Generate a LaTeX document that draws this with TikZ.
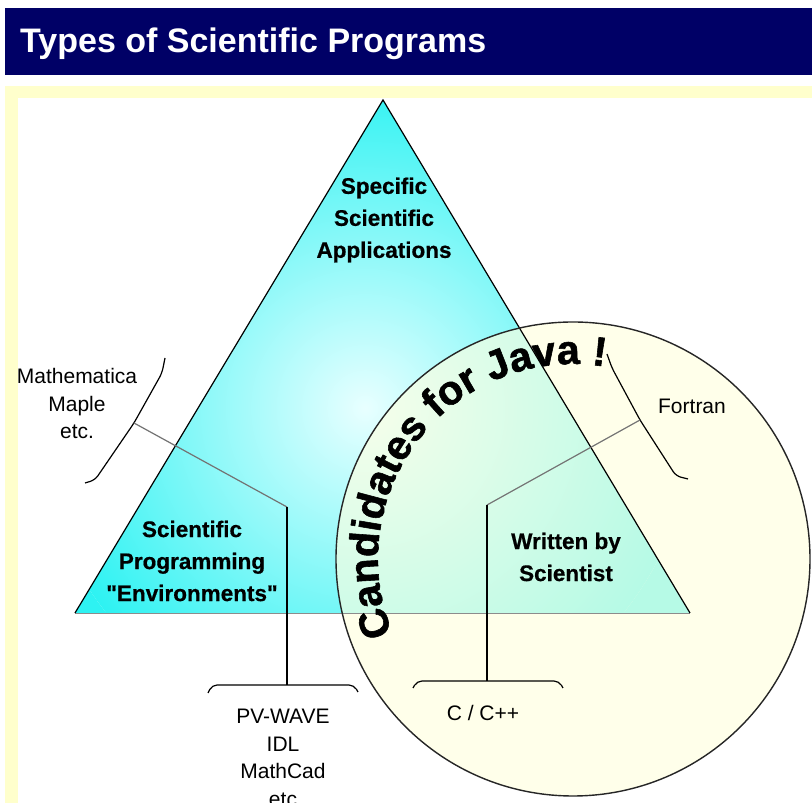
\documentclass[tikz,border=0pt]{standalone}
\usepackage{fontspec}
\setmainfont{Liberation Sans}
\newfontfamily\labelfont{Liberation Sans}[BoldFeatures={FakeBold=0.6}]
\newfontfamily\javafont{Liberation Sans Bold}[FakeBold=1.4]
\usepackage{tikz}
\usetikzlibrary{decorations.text}
\definecolor{titlecolor}{HTML}{000066}
\definecolor{framecolor}{HTML}{FFFFCC}
\definecolor{pyramidedge}{HTML}{2EF2F2}
\definecolor{pyramidcore}{HTML}{E8FFFF}
\definecolor{javacolor}{HTML}{FFFFE0}

\begin{document}
\begin{tikzpicture}[x=1pt, y=1pt,
    region/.style={font=\labelfont\fontsize{22.5}{32}\selectfont\bfseries, align=center, inner sep=0pt},
    tool/.style={font=\fontsize{21}{27.5}\selectfont, align=center, inner sep=0pt},
    bracket/.style={line width=1.2pt, rounded corners=5pt},
    lead/.style={line width=1.2pt, color=black!55}
]
    \useasboundingbox (0,0) rectangle (812,803);
    \clip (0,0) rectangle (812,803);
    \fill[white] (0,0) rectangle (812,803);

    % title bar
    \fill[titlecolor] (5,728) rectangle (812,795);
    \node[anchor=base west, text=white, font=\fontsize{34}{40}\selectfont\bfseries, inner sep=0pt]
        (title) at (20,750) {Types of Scientific Programs};

    % pale frame
    \fill[framecolor] (5,0) rectangle (812,717);
    \fill[white] (18,0) rectangle (812,705);

    % pyramid, then the java circle over it
    \coordinate (apex) at (383,703);
    \coordinate (baseL) at (75,190);
    \coordinate (baseR) at (690,190);
    \coordinate (java) at (573,244);
    \begin{scope}
        \clip (apex) -- (baseL) -- (baseR) -- cycle;
        \shade[inner color=pyramidcore, outer color=pyramidedge] (365,395) circle[radius=330];
        \fill[pyramidedge] (75,190) -- (75,703) -- (690,703) -- (690,190)
            -- (365,65) arc[start angle=-90, end angle=270, radius=330] -- cycle;
    \end{scope}
    \fill[javacolor, fill opacity=0.65] (java) circle[radius=237];
    \draw[black!45] (baseL) -- (baseR);
    \draw[line width=1.2pt] (baseL) -- (apex) -- (baseR);
    \draw[line width=1.4pt, black!85] (java) circle[radius=237];

    \path[decorate, decoration={text along path, text align=center,
        text={|\javafont\fontsize{41}{41}\selectfont|Candidates for Java !}}]
        (java) ++(204:195) arc[start angle=204, end angle=79, radius=195];

    % labels
    \node[region] (apps) at (384,583) {Specific\\Scientific\\Applications};
    \node[region] (envs) at (192,242) {Scientific\\Programming\\"Environments"};
    \node[region] (bysci) at (566,246) {Written by\\Scientist};
    \node[tool] (maple) at (77,399) {Mathematica\\Maple\\etc.};
    \node[tool] (fortran) at (692,397) {Fortran};
    \node[tool] (pvwave) at (283,45) {PV-WAVE\\IDL\\MathCad\\etc};
    \node[tool] (cpp) at (483,90) {C / C++};

    % brackets
    \coordinate (mapleTip) at (134,380);
    \coordinate (fortranTip) at (640,383);
    \coordinate (pvwaveTip) at (287,118);
    \coordinate (cppTip) at (487,122);
    \coordinate (envBend) at (287,296);
    \coordinate (sciBend) at (487,298);
    \draw[bracket] (165,445) -- (162,430) -- (mapleTip) -- (95,323) -- (85,320);
    \draw[bracket] (607,449) -- (612,435) -- (fortranTip) -- (676,327) -- (688,324);
    \draw[bracket] (208,110) -- (212,118) -- (pvwaveTip) -- (354,118) -- (358,111);
    \draw[bracket] (413,115) -- (417,122) -- (cppTip) -- (559,122) -- (563,115);

    % leaders
    \draw[lead] (mapleTip) -- (envBend);
    \draw[line width=1.2pt] (envBend) -- (pvwaveTip);
    \draw[lead] (fortranTip) -- (sciBend);
    \draw[line width=1.2pt] (sciBend) -- (cppTip);
\end{tikzpicture}
\end{document}
